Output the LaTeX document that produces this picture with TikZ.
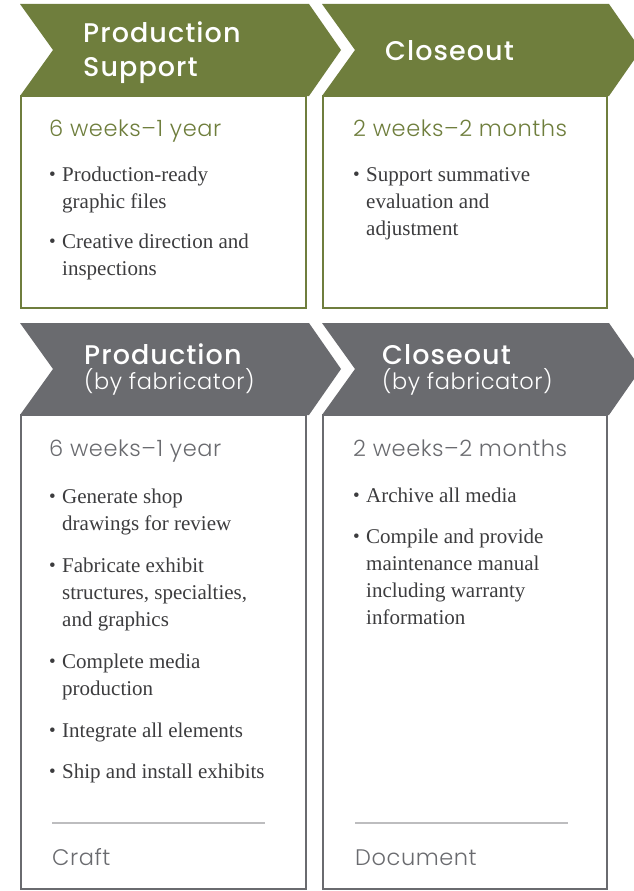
\documentclass[tikz,border=0pt]{standalone}
\usepackage{fontspec}
\setmainfont{Liberation Serif}
\newfontfamily\headfont{Poppins Medium}[LetterSpace=4]
\newfontfamily\lightfont{Poppins Light}[LetterSpace=2.5]
\definecolor{phasegreen}{HTML}{6F7E3D}
\definecolor{phasegray}{HTML}{6A6B6F}
\definecolor{inkgray}{HTML}{3C3C3E}
\definecolor{rulegray}{HTML}{BDBDBF}
\tikzset{
  chev/.style={fill=#1, draw=none},
  panel/.style={draw=#1, line width=2.6pt},
  head/.style={anchor=base west, inner sep=0pt, align=left, text=white,
    font=\headfont\fontsize{27}{34}\selectfont},
  span/.style={anchor=base west, inner sep=0pt, text=#1,
    font=\lightfont\fontsize{22.5}{25}\selectfont},
  dot/.style={anchor=base west, inner sep=0pt, text=inkgray,
    font=\fontsize{19}{27}\selectfont},
  item/.style={anchor=base west, inner sep=0pt, align=left, text=inkgray,
    font=\fontsize{21}{27}\selectfont},
}
\newcommand\itemdot{\raisebox{1pt}{\textbullet}}
\begin{document}
\begin{tikzpicture}[x=1pt,y=-1pt]
	\useasboundingbox (0,0) rectangle (634,891);
	% top row: design firm phases
	\draw [panel=phasegreen] (21,96) rectangle (306,308);
	\draw [panel=phasegreen] (323,96) rectangle (607,308);
	\fill [chev=phasegreen] (20,4) -- (309,4) -- (341,50) -- (309,96) -- (20,96) -- (53,50) -- cycle;
	\fill [chev=phasegreen] (322,4) -- (609,4) -- (641,50) -- (609,96) -- (322,96) -- (355,50) -- cycle;
	\node [head] (ps-head) at (83,77) {Production\\Support};
	\node [head] (cl-head) at (385,60) {Closeout};
	\node [span=phasegreen] (ps-span) at (49,136) {6 weeks–1 year};
	\node [span=phasegreen] (cl-span) at (353,136) {2 weeks–2 months};
	\node [dot] (ps-d1) at (49,181) {\itemdot};
	\node [item] (ps-i1) at (62,208) {Production-ready\\graphic files};
	\node [dot] (ps-d2) at (49,248) {\itemdot};
	\node [item] (ps-i2) at (62,275) {Creative direction and\\inspections};
	\node [dot] (cl-d1) at (353,181) {\itemdot};
	\node [item] (cl-i1) at (366,235) {Support summative\\evaluation and\\adjustment};
	% bottom row: fabricator phases
	\draw [panel=phasegray] (21,415) rectangle (306,889);
	\draw [panel=phasegray] (323,415) rectangle (607,889);
	\fill [chev=phasegray] (20,323) -- (309,323) -- (341,369) -- (309,415) -- (20,415) -- (53,369) -- cycle;
	\fill [chev=phasegray] (322,323) -- (609,323) -- (641,369) -- (609,415) -- (322,415) -- (355,369) -- cycle;
	\node [head, font=\headfont\fontsize{27}{25}\selectfont] (pr-head) at (84,389) {Production\\{\lightfont\fontsize{22.5}{25}\selectfont (by fabricator)}};
	\node [head, font=\headfont\fontsize{27}{25}\selectfont] (fc-head) at (382,389) {Closeout\\{\lightfont\fontsize{22.5}{25}\selectfont (by fabricator)}};
	\node [span=phasegray] (pr-span) at (49,456) {6 weeks–1 year};
	\node [span=phasegray] (fc-span) at (353,456) {2 weeks–2 months};
	\node [dot] (pr-d1) at (49,503) {\itemdot};
	\node [item] (pr-i1) at (62,530) {Generate shop\\drawings for review};
	\node [dot] (pr-d2) at (49,572) {\itemdot};
	\node [item] (pr-i2) at (62,626) {Fabricate exhibit\\structures, specialties,\\and graphics};
	\node [dot] (pr-d3) at (49,668) {\itemdot};
	\node [item] (pr-i3) at (62,695) {Complete media\\production};
	\node [dot] (pr-d4) at (49,737) {\itemdot};
	\node [item] (pr-i4) at (62,737) {Integrate all elements};
	\node [dot] (pr-d5) at (49,778) {\itemdot};
	\node [item] (pr-i5) at (62,778) {Ship and install exhibits};
	\node [dot] (fc-d1) at (353,502) {\itemdot};
	\node [item] (fc-i1) at (366,502) {Archive all media};
	\node [dot] (fc-d2) at (353,543) {\itemdot};
	\node [item] (fc-i2) at (366,624) {Compile and provide\\maintenance manual\\including warranty\\information};
	% skill labels
	\draw [rulegray, line width=2pt] (52,823) -- (265,823);
	\draw [rulegray, line width=2pt] (355,823) -- (568,823);
	\node [span=phasegray] (pr-skill) at (52,865) {Craft};
	\node [span=phasegray] (fc-skill) at (355,865) {Document};
\end{tikzpicture}
\end{document}
